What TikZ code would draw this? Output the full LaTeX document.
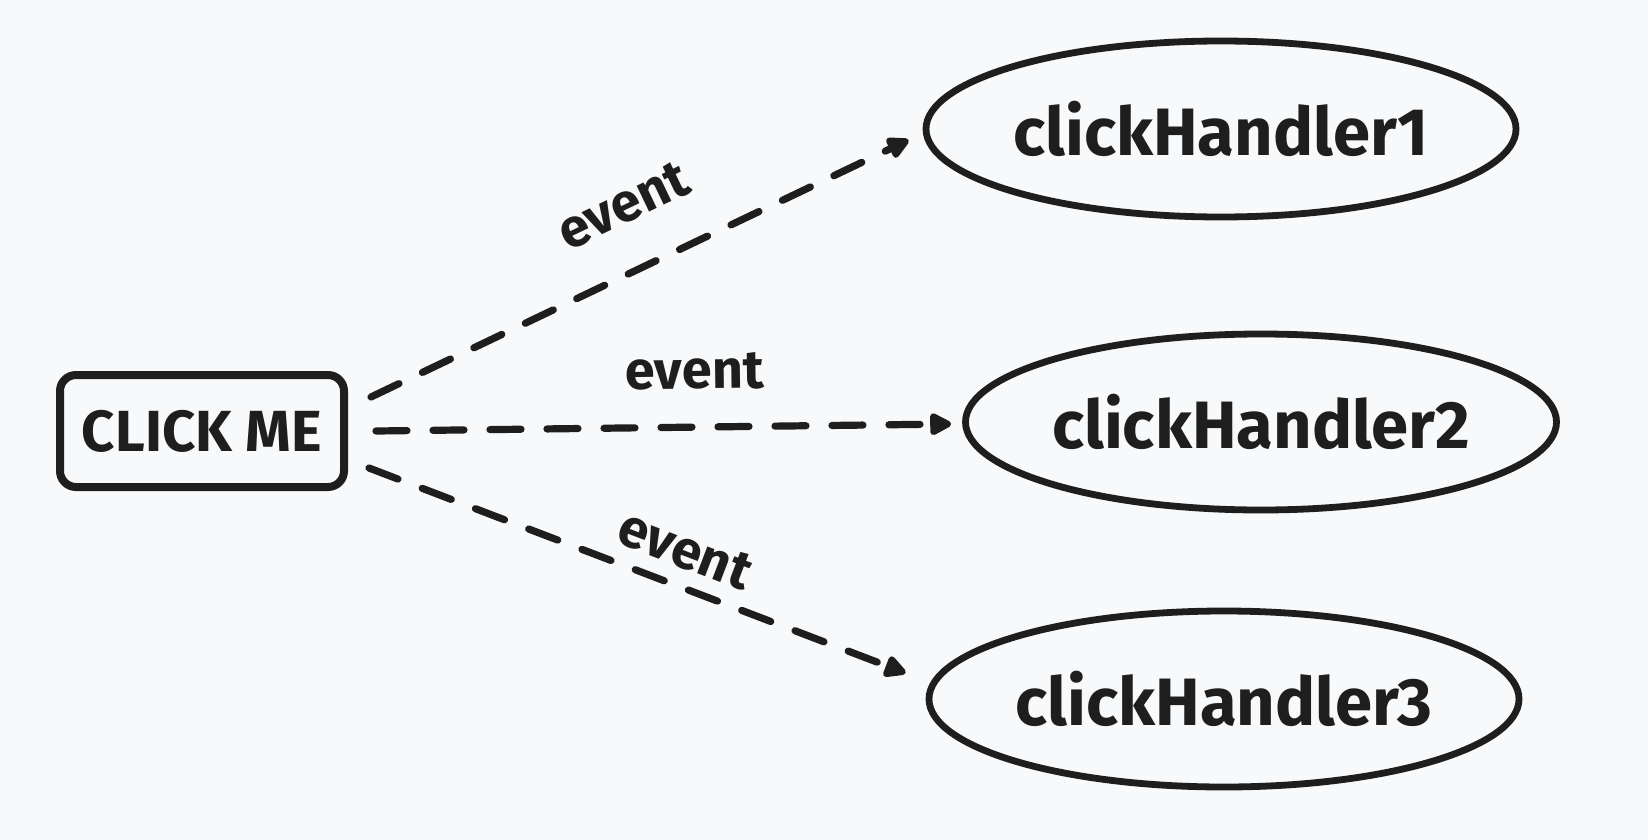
\documentclass[tikz,border=0pt]{standalone}
\usepackage{fontspec}
\setmainfont{Fira Sans}
\usepackage{xcolor}
\usetikzlibrary{shapes,arrows.meta,calc}

\definecolor{ink}{HTML}{1E1E1E}
\definecolor{paper}{HTML}{F8F9FA}

\begin{document}
\begin{tikzpicture}[
    x=0.5pt, y=-0.5pt,
    >={Triangle[length=12.5pt, width=12pt, round]},
    button/.style={
        rectangle, draw=ink, line width=4pt, rounded corners=8pt,
        minimum width=142pt, minimum height=56pt, inner sep=0pt,
        font=\bfseries\fontsize{29}{34}\selectfont, text=ink
    },
    handler/.style={
        ellipse, draw=ink, line width=3.4pt,
        minimum width=295pt, minimum height=88pt, inner sep=0pt,
        font=\bfseries\fontsize{33.5}{40}\selectfont, text=ink
    },
    flow/.style={
        ->, draw=ink, line width=3.6pt, line cap=round,
        dash pattern=on 15.5pt off 13pt
    },
    tag/.style={
        font=\bfseries\fontsize{27}{32}\selectfont, text=ink,
        sloped, inner sep=0pt
    }
]

    % Canvas
    \fill [paper] (0,0) rectangle (1648,840);
    \useasboundingbox (0,0) rectangle (1648,840);

    % Button and handlers
    \node [button] (click) at (202,431) {CLICK ME};
    \node [handler] (handler1) at (1221,129) {clickHandler1};
    \node [handler] (handler2) at (1261,422) {clickHandler2};
    \node [handler] (handler3) at (1224,699) {clickHandler3};

    % Event arrows
    \draw [flow] ($(click.east)+(23,-34)$) -- node [tag, pos=0.52, yshift=32pt] {event} ($(handler1.west)+(-14,11)$);
    \draw [flow] ($(click.east)+(28,0)$) -- node [tag, pos=0.555, yshift=28pt] {event} ($(handler2.west)+(-11,2)$);
    \draw [flow] ($(click.east)+(21,37)$) -- node [tag, pos=0.565, yshift=18pt] {event} ($(handler3.west)+(-20,-26)$);

\end{tikzpicture}
\end{document}
